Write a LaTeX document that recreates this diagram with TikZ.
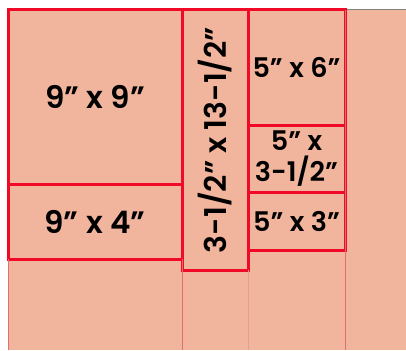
\documentclass[tikz,border=0pt]{standalone}
\usepackage{fontspec}
\setmainfont{Poppins}[BoldFont={Poppins SemiBold}]
\usepackage{tikz}
\usetikzlibrary{positioning}
\definecolor{sheetpink}{RGB}{241,180,156}
\definecolor{cutred}{RGB}{240,10,40}
\definecolor{guidered}{RGB}{226,110,110}
\definecolor{edgegray}{RGB}{130,130,130}

\begin{document}
\begin{tikzpicture}[x=1pt, y=-1pt,
    every node/.style={font=\fontsize{31}{36}\selectfont\bfseries, inner sep=0pt, outer sep=0pt},
    cut/.style={draw=cutred, line width=3pt},
    small/.style={font=\fontsize{27}{31}\selectfont\bfseries}]
      \useasboundingbox (0,0) rectangle (406,350);
      \fill[sheetpink] (8,9.5) rectangle (406,350);
      \draw[edgegray, line width=1pt] (8,9.5) -- (406,9.5);
      \coordinate (floor) at (0,350);
      \node[cut, minimum width=174pt, minimum height=174pt, anchor=north west] (nine) at (8,10) {9” x 9”};
      \node[cut, minimum width=174pt, minimum height=75pt, below=0pt of nine] (four) {9” x 4”};
      \node[cut, minimum width=66pt, minimum height=260pt, right=0pt of nine.north east, anchor=north west] (strip) {};
      \node[rotate=90, font=\fontsize{30}{34}\selectfont\bfseries] (striplabel) at (strip.center) {3-1/2” x 13-1/2”};
      \node[cut, small, minimum width=97pt, minimum height=115pt, right=0pt of strip.north east, anchor=north west] (six) {5” x 6”};
      \node[cut, small, minimum width=97pt, minimum height=67pt, below=0pt of six, align=center] (half) {5” x\\3-1/2”};
      \node[cut, small, minimum width=97pt, minimum height=58pt, below=0pt of half] (three) {5” x 3”};
      \draw[guidered, line width=0.8pt] (four.south west) -- (four.south west |- floor);
      \draw[guidered, line width=0.8pt] (four.south east) -- (four.south east |- floor);
      \draw[guidered!70, line width=0.8pt] (strip.south east) -- (strip.south east |- floor);
      \draw[guidered, line width=0.8pt] (three.south east) -- (three.south east |- floor);
      \draw[guidered, line width=0.8pt] (six.north east) -- (three.south east);
    \end{tikzpicture}
\end{document}
